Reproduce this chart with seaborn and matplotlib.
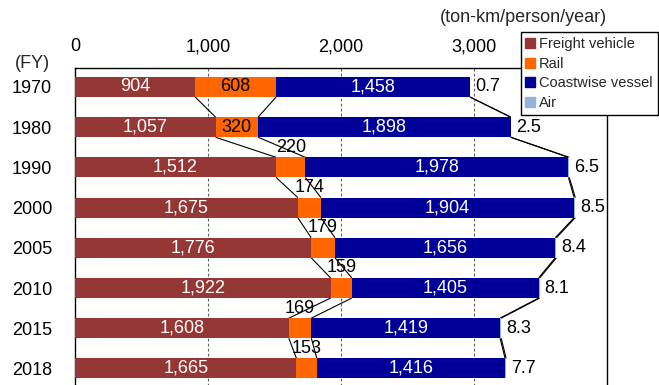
import numpy as np
import pandas as pd
import matplotlib
matplotlib.use("Agg")
import matplotlib.pyplot as plt
from matplotlib.lines import Line2D
import seaborn as sns

# Per-capita domestic freight transport, ton-km/person/year
years = ["1970", "1980", "1990", "2000", "2005", "2010", "2015", "2018"]
freight = [904, 1057, 1512, 1675, 1776, 1922, 1608, 1665]
rail = [608, 320, 220, 174, 179, 159, 169, 153]
coastwise = [1458, 1898, 1978, 1904, 1656, 1405, 1419, 1416]
air = [0.7, 2.5, 6.5, 8.5, 8.4, 8.1, 8.3, 7.7]

series_names = ["Freight vehicle", "Rail", "Coastwise vessel", "Air"]
colors = ["#953735", "#FF6600", "#000099", "#95B3D7"]

sns.set_theme(style="white")
plt.rcParams["font.family"] = ["Liberation Sans", "DejaVu Sans"]

df = pd.DataFrame({"year": years, "Freight vehicle": freight, "Rail": rail,
                   "Coastwise vessel": coastwise, "Air": air})
cum = df[series_names].cumsum(axis=1)

W, H = 659, 385
fig = plt.figure(figsize=(W / 100, H / 100), dpi=100)
ax = fig.add_axes([75 / W, 1 - 387.7 / H, 532 / W, 320 / H])

bar_h = 0.5
# Stacked bars: draw cumulative totals from the outermost segment inwards
for name, col in reversed(list(zip(series_names, colors))):
    sns.barplot(data=cum.assign(year=years), x=name, y="year", orient="h",
                color=col, saturation=1, width=bar_h, linewidth=0, ax=ax, zorder=3)

ax.set_xlim(0, 4000)
ax.set_ylim(7.48, -0.48)
ax.set_xlabel("")
ax.set_ylabel("")

# dashed vertical gridlines
for gx in (1000, 2000, 3000):
    ax.axvline(gx, color="#606060", lw=0.8, ls=(0, (2.5, 2)), zorder=1)

# series lines between consecutive bars
n = len(years)
for name in series_names:
    vals = cum[name].to_numpy()
    for i in range(n - 1):
        ax.plot([vals[i], vals[i + 1]], [i + bar_h / 2, i + 1 - bar_h / 2],
                color="black", lw=0.8, zorder=2, solid_capstyle="butt")

fs = 13
for i in range(n):
    f, r, c, a = freight[i], rail[i], coastwise[i], air[i]
    ax.text(f / 2, i, f"{f:,}", ha="center", va="center", color="white",
            fontsize=fs, zorder=5)
    rc = f + r / 2
    if r >= 300:
        ax.text(rc, i, f"{r:,}", ha="center", va="center", color="black",
                fontsize=fs, zorder=5)
    else:
        ax.text(rc, i - 0.5, f"{r:,}", ha="center", va="center", color="black",
                fontsize=fs, zorder=5)
    ax.text(f + r + c / 2, i, f"{c:,}", ha="center", va="center", color="white",
            fontsize=fs, zorder=5)
    ax.annotate(f"{a}", xy=(f + r + c + a, i), xytext=(5, 0),
                textcoords="offset pixels", ha="left", va="center",
                color="black", fontsize=fs, zorder=5)

ax.xaxis.tick_top()
ax.set_xticks([0, 1000, 2000, 3000])
ax.set_xticklabels(["0", "1,000", "2,000", "3,000"])
ax.tick_params(axis="x", length=0, pad=9, labelsize=fs, colors="black")
ax.tick_params(axis="y", length=0, pad=16.5, labelsize=fs, colors="black")
for lab in ax.get_yticklabels():
    lab.set_horizontalalignment("right")

for sp in ax.spines.values():
    sp.set_visible(True)
    sp.set_color("black")
    sp.set_linewidth(1.0)

fig.text(32 / W, 1 - 63 / H, "(FY)", ha="center", va="center", fontsize=fs)
fig.text(607 / W, 1 - 17 / H, "(ton-km/person/year)", ha="right", va="center",
         fontsize=fs)

handles = [Line2D([0], [0], marker="s", ls="none", markersize=6.5,
                  markerfacecolor=col, markeredgecolor=col) for col in colors]
leg = ax.legend(handles, series_names, loc="upper left",
                bbox_to_anchor=(0.838, 1.111), borderaxespad=0, frameon=True,
                fancybox=False, edgecolor="black", fontsize=10.5,
                handlelength=0.6, handletextpad=0.3, labelspacing=0.38,
                borderpad=0.35, framealpha=1)
leg.get_frame().set_linewidth(1.0)
leg.set_zorder(10)

fig.savefig("out.png", dpi=100)
